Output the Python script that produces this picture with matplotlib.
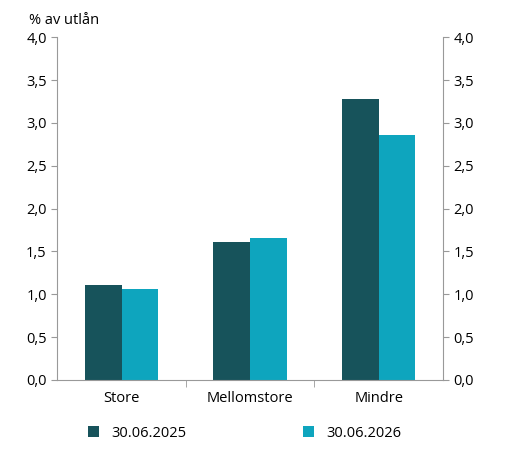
import matplotlib
matplotlib.use("Agg")
from matplotlib import pyplot as plt
import numpy as np

categories = ["Store", "Mellomstore", "Mindre"]
series_names = ["30.06.2025", "30.06.2026"]
v2025 = [1.11, 1.61, 3.28]
v2026 = [1.06, 1.66, 2.86]
colors = ["#17535b", "#0ea5be"]

plt.rcParams["font.family"] = ["Open Sans", "DejaVu Sans"]
plt.rcParams["font.size"] = 10.5

fig = plt.figure(figsize=(5.2, 4.54), dpi=100)
ax = fig.add_axes([0.11, 0.163, 0.742, 0.755])
x = np.arange(len(categories))
w = 0.285
ax.bar(x - w / 2, v2025, w, color=colors[0], label=series_names[0])
ax.bar(x + w / 2, v2026, w, color=colors[1], label=series_names[1])

ax.set_xlim(-0.5, 2.5)
ax.set_ylim(0, 4)
ticks = np.arange(0, 4.01, 0.5)
labels = [f"{t:.1f}".replace(".", ",") for t in ticks]
ax.set_yticks(ticks)
ax.set_yticklabels(labels)
ax.tick_params(axis="y", length=4, right=True, labelright=True, color="#999999")
ax.set_xticks(x)
ax.set_xticklabels(categories)
ax.set_xticks([0.5, 1.5], minor=True)
ax.tick_params(axis="x", which="major", length=0, pad=8)
ax.tick_params(axis="x", which="minor", length=5, color="#999999")
ax.spines["top"].set_visible(False)
for s in ["left", "right", "bottom"]:
    ax.spines[s].set_color("#999999")

fig.text(0.055, 0.955, "% av utlån", ha="left", va="center")
fig.legend(handles=ax.patches[:1] + ax.patches[3:4], labels=series_names,
           loc="lower center", bbox_to_anchor=(0.47, 0.0), ncol=2, frameon=False,
           handlelength=0.8, handleheight=0.8, columnspacing=8)
fig.savefig("out.png", dpi=100)
